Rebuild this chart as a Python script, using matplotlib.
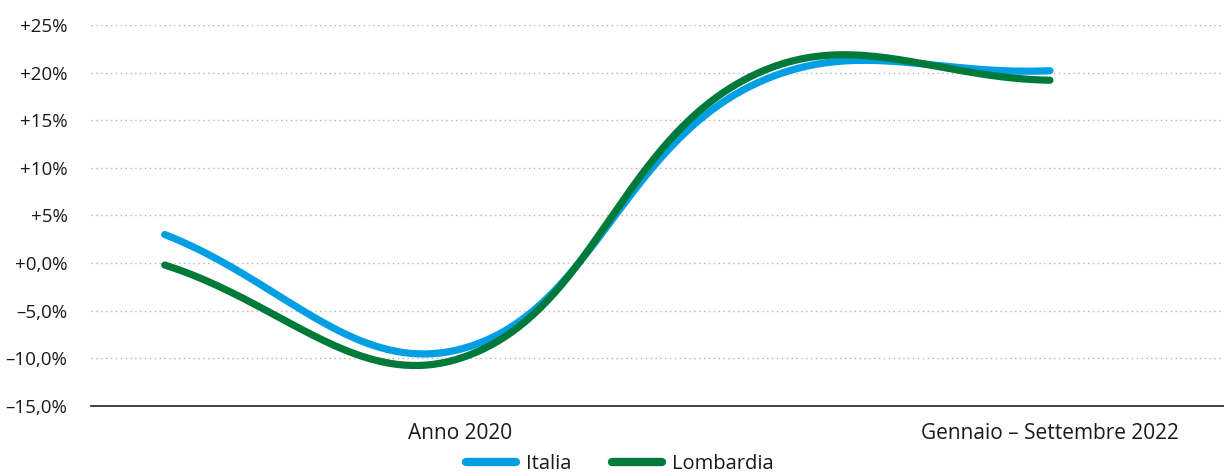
import numpy as np
import matplotlib
matplotlib.use("Agg")
import matplotlib.pyplot as plt
from matplotlib.lines import Line2D

# Variazione percentuale per periodo
periodi = ["Anno 2019", "Anno 2020", "Anno 2021", "Gennaio – Settembre 2022"]
etichette_x = ["", "Anno 2020", "", "Gennaio – Settembre 2022"]
italia = [3.0, -9.05, 18.8, 20.2]
lombardia = [-0.2, -10.0, 19.8, 19.2]

y_ticks = [25, 20, 15, 10, 5, 0, -5, -10, -15]
y_labels = ["+25%", "+20%", "+15%", "+10%", "+5%", "+0,0%", "–5,0%", "–10,0%", "–15,0%"]

COL_ITALIA = "#009fe3"
COL_LOMBARDIA = "#007a3a"
TXT = "#1a1a1a"

plt.rcParams["font.family"] = ["Open Sans", "DejaVu Sans"]

W, H = 1224, 476
fig = plt.figure(figsize=(W / 100, H / 100), dpi=100)
ax = fig.add_axes([91 / W, 1 - 406 / H, (W - 91) / W, (406 - 25) / H])

x = np.arange(len(periodi))
ax.set_xlim(-0.25, 3.59)
ax.set_ylim(-15, 25)

for s in ["top", "right", "left"]:
    ax.spines[s].set_visible(False)
ax.spines["bottom"].set_color("#333333")
ax.spines["bottom"].set_linewidth(1.3)

ax.set_yticks(y_ticks)
ax.set_yticklabels(y_labels)
ax.set_xticks(x)
ax.set_xticklabels(etichette_x)
ax.tick_params(axis="both", length=0, colors=TXT)
ax.tick_params(axis="y", pad=17, labelsize=13.5)
ax.tick_params(axis="x", pad=12, labelsize=15)

for t in y_ticks[:-1]:
    ax.axhline(t, color="#b5b5b5", linewidth=1.0, linestyle=(0, (1, 2.5)), zorder=1)


def spline_path(xs, ys, tension=0.4, n=80):
    """Cubic Bezier path through the points, control points computed in pixel space."""
    pts = ax.transData.transform(np.column_stack([xs, ys]))
    m = len(pts)
    cp_prev = np.zeros_like(pts)
    cp_next = np.zeros_like(pts)
    for i in range(m):
        p = pts[i]
        prev = pts[i - 1] if i > 0 else p
        nxt = pts[i + 1] if i < m - 1 else p
        d01 = np.hypot(*(p - prev))
        d12 = np.hypot(*(nxt - p))
        tot = d01 + d12
        s01 = d01 / tot if tot else 0.0
        s12 = d12 / tot if tot else 0.0
        cp_prev[i] = p - tension * s01 * (nxt - prev)
        cp_next[i] = p + tension * s12 * (nxt - prev)
    t = np.linspace(0, 1, n)[:, None]
    segs = []
    for i in range(m - 1):
        p0, p1, p2, p3 = pts[i], cp_next[i], cp_prev[i + 1], pts[i + 1]
        seg = ((1 - t) ** 3) * p0 + 3 * ((1 - t) ** 2) * t * p1 + 3 * (1 - t) * t ** 2 * p2 + t ** 3 * p3
        segs.append(seg if i == 0 else seg[1:])
    curve = np.vstack(segs)
    return ax.transData.inverted().transform(curve)


for vals, col in [(italia, COL_ITALIA), (lombardia, COL_LOMBARDIA)]:
    c = spline_path(x, vals)
    ax.plot(c[:, 0], c[:, 1], color=col, linewidth=5.2, solid_capstyle="round", zorder=3)

handles = [
    Line2D([0], [0], color=COL_ITALIA, linewidth=6, solid_capstyle="round"),
    Line2D([0], [0], color=COL_LOMBARDIA, linewidth=6, solid_capstyle="round"),
]
fig.legend(handles, ["Italia", "Lombardia"], loc="center", bbox_to_anchor=(620 / W, 1 - 464 / H),
           ncol=2, frameon=False, fontsize=14.5, handlelength=2.5, handletextpad=0.5,
           columnspacing=2.0, labelcolor=TXT, borderpad=0, borderaxespad=0)

fig.savefig("out.png", dpi=100)
